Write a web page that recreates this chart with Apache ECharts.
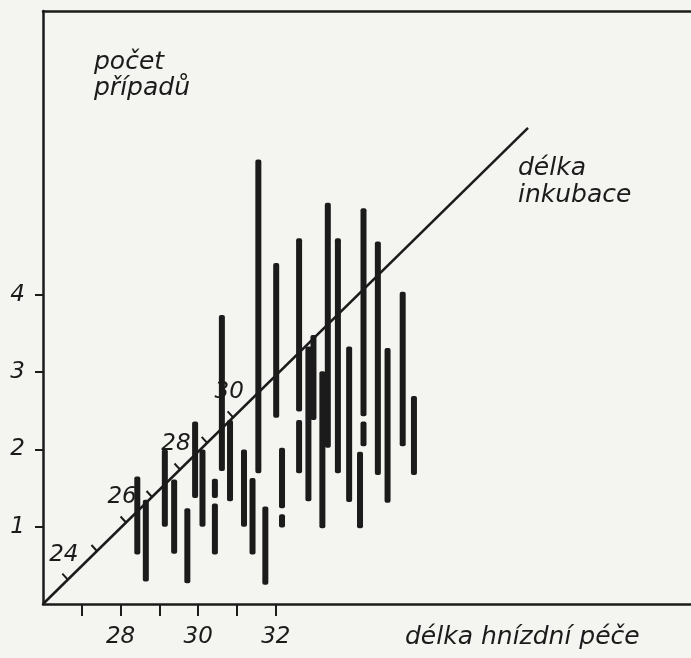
<!DOCTYPE html>
<html>
<head>
<meta charset="utf-8">
<script src="https://cdn.jsdelivr.net/npm/echarts@6/dist/echarts.min.js"></script>
<style>
html,body{margin:0;padding:0;background:#f4f4f1;}
#chart{width:691px;height:658px;}
</style>
</head>
<body>
<div id="chart"></div>
<script>
// x positions (délka hnízdní péče) of each vertical bar segment
const barX    = [28.43,28.65,29.14,29.38,29.72,29.92,30.11,30.43,30.43,30.61,30.82,31.18,31.40,31.55,31.73,32.01,32.16,32.16,32.60,32.60,32.84,32.97,33.20,33.34,33.60,33.89,34.17,34.26,34.26,34.63,34.88,35.27,35.56];
// lower and upper ends (počet případů)
const barLow  = [0.64,0.29,1.00,0.65,0.27,1.37,1.00,1.37,0.64,1.72,1.33,1.00,0.64,1.69,0.25,2.41,1.24,0.99,2.49,1.69,1.33,2.38,0.98,2.02,1.69,1.32,0.98,2.43,2.04,1.67,1.31,2.04,1.67];
const barHigh = [1.65,1.35,2.00,1.61,1.24,2.36,2.00,1.62,1.30,3.74,2.38,2.00,1.63,5.75,1.26,4.41,2.02,1.16,4.73,2.38,3.33,3.48,3.01,5.19,4.73,3.33,1.97,5.12,2.36,4.69,3.31,4.04,2.69];

// diagonal line "délka inkubace"
const diagX = [26, 38.5];
const diagY = [0, 6.16];
// incubation-day ticks along the diagonal (x position on axis)
const diagDays  = [24,25,26,27,28,29,30];
const diagTickX = [26.64,27.39,28.14,28.81,29.53,30.23,30.90];

// axis ticks / labels
const xTickValues  = [27,28,29,30,31,32];
const xLabelValues = [28,30,32];
const yTickValues  = [1,2,3,4];

const INK = '#1b1b1b';
const FONT = 'DejaVu Sans';

const chart = echarts.init(document.getElementById('chart'), null, {renderer:'canvas'});

const bars = barX.map((x,i)=>[x, barLow[i], barHigh[i]]);
const diagSlope = (diagY[1]-diagY[0])/(diagX[1]-diagX[0]);
const ticks = diagTickX.map((x,i)=>[x, diagY[0] + (x-diagX[0])*diagSlope, diagDays[i]]);

const option = {
  backgroundColor:'#f4f4f1',
  animation:false,
  grid:{left:43, top:11, right:0, bottom:54, containLabel:false},
  title:[
    {text:'počet\npřípadů', left:89, top:44,
     textStyle:{fontFamily:FONT, fontStyle:'italic', fontWeight:'normal', fontSize:25, lineHeight:26, color:INK}},
    {text:'délka\ninkubace', left:513, top:150,
     textStyle:{fontFamily:FONT, fontStyle:'italic', fontWeight:'normal', fontSize:25, lineHeight:27, color:INK}},
    {text:'délka hnízdní péče', left:400, top:620,
     textStyle:{fontFamily:FONT, fontStyle:'italic', fontWeight:'normal', fontSize:25, color:INK}}
  ],
  xAxis:[
    {type:'value', min:26, max:42.70, position:'bottom',
     splitLine:{show:false},
     axisLine:{show:true, onZero:false, lineStyle:{color:INK, width:2.5}},
     axisTick:{show:true, customValues:xTickValues, length:12, lineStyle:{color:INK, width:2}},
     axisLabel:{show:true, customValues:xLabelValues, margin:22, fontFamily:FONT, fontStyle:'italic', fontSize:23, color:INK}
    },
    {type:'value', min:26, max:42.70, position:'top',
     splitLine:{show:false},
     axisLine:{show:true, onZero:false, lineStyle:{color:INK, width:2.5}},
     axisTick:{show:false}, axisLabel:{show:false}
    }
  ],
  yAxis:{type:'value', min:0, max:7.671,
     splitLine:{show:false},
     axisLine:{show:true, onZero:false, lineStyle:{color:INK, width:2.5}},
     axisTick:{show:true, customValues:yTickValues, length:8, lineStyle:{color:INK, width:2}},
     axisLabel:{show:true, customValues:yTickValues, margin:18, fontFamily:FONT, fontStyle:'italic', fontSize:23, color:INK}
  },
  series:[
    {type:'custom', name:'bars', data:bars, clip:false,
     renderItem:function(params, api){
       const x = api.value(0);
       const p1 = api.coord([x, api.value(1)]);
       const p2 = api.coord([x, api.value(2)]);
       const w = 6;
       return {type:'rect', shape:{x:p1[0]-w/2, y:p2[1], width:w, height:p1[1]-p2[1], r:2},
               style:{fill:INK}};
     }},
    {type:'line', name:'délka inkubace', data:diagX.map((x,i)=>[x, diagY[i]]),
     showSymbol:false, symbol:'none', lineStyle:{color:INK, width:2.5}},
    {type:'custom', name:'ticks', data:ticks, clip:false,
     renderItem:function(params, api){
       const p = api.coord([api.value(0), api.value(1)]);
       const day = api.value(2);
       const children = [
         {type:'line', shape:{x1:p[0], y1:p[1], x2:p[0]-5.5, y2:p[1]-6}, style:{stroke:INK, lineWidth:2}}
       ];
       if (day % 2 === 0) {
         children.push({type:'text', x:p[0]-4, y:p[1]-25,
           style:{text:String(day), fill:INK, font:'italic 23px "DejaVu Sans"', align:'center', verticalAlign:'middle'}});
       }
       return {type:'group', children:children};
     }}
  ]
};
chart.setOption(option);
</script>
</body>
</html>
